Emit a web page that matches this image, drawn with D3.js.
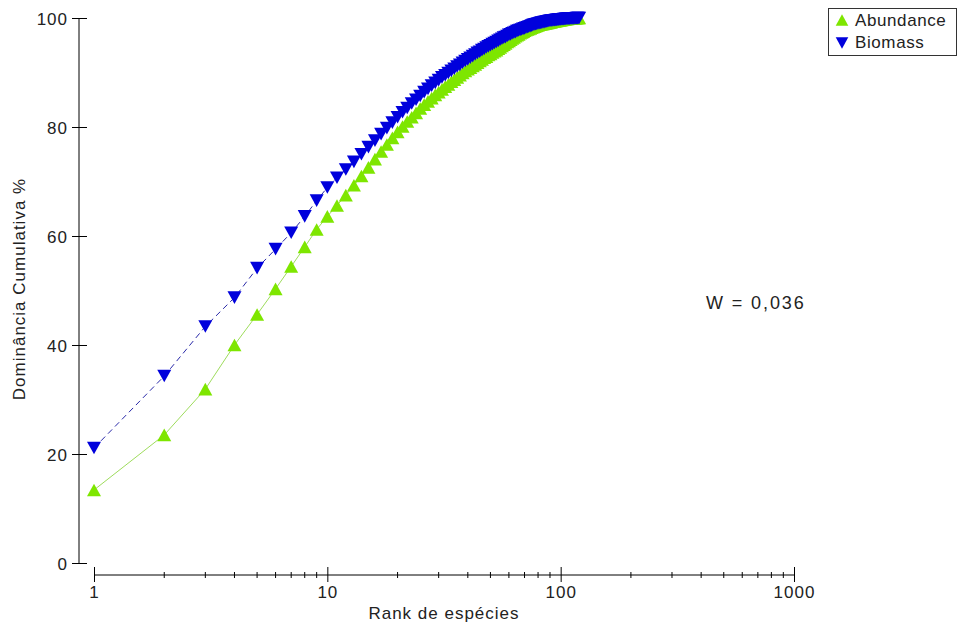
<!DOCTYPE html>
<html>
<head>
<meta charset="utf-8">
<script src="https://cdn.jsdelivr.net/npm/d3@7"></script>
<style>
  html, body { margin: 0; padding: 0; background: #fff; }
  svg { display: block; }
  text { font-family: "Liberation Sans", Arial, sans-serif; font-size: 17px; fill: #222; letter-spacing: 1px; }
</style>
</head>
<body>
<script>
// ---- data ----
const abundance = [
  13.4, 23.5, 31.9, 40.0, 45.6, 50.3, 54.4, 58.0, 61.2, 63.6,
  65.6, 67.5, 69.3, 71.0, 72.6, 74.1, 75.5, 76.8, 78.0, 79.1,
  80.1, 81.0, 81.8, 82.6, 83.4, 84.1, 84.7, 85.3, 85.9, 86.4,
  86.9, 87.4, 87.8, 88.3, 88.7, 89.1, 89.5, 89.9, 90.3, 90.6,
  90.9, 91.2, 91.5, 91.8, 92.1, 92.4, 92.7, 92.9, 93.2, 93.4,
  93.7, 93.9, 94.1, 94.35, 94.6, 94.85, 95.1, 95.35, 95.6, 95.8,
  96.0, 96.25, 96.45, 96.65, 96.85, 97.0, 97.2, 97.35, 97.5, 97.65,
  97.8, 97.9, 98.0, 98.1, 98.2, 98.3, 98.4, 98.5, 98.6, 98.7,
  98.75, 98.8, 98.85, 98.9, 98.95, 99.0, 99.05, 99.1, 99.15, 99.2,
  99.25, 99.3, 99.34, 99.38, 99.42, 99.46, 99.5, 99.54, 99.57, 99.6,
  99.64, 99.68, 99.72, 99.75, 99.78, 99.81, 99.84, 99.86, 99.88, 99.9,
  99.92, 99.94, 99.95, 99.96, 99.97, 99.98, 99.99, 99.995, 99.998, 100
];
const biomass = [
  21.1, 34.3, 43.4, 48.7, 54.1, 57.6, 60.6, 63.6, 66.5, 68.9,
  70.7, 72.2, 73.6, 75.0, 76.3, 77.5, 78.7, 79.8, 80.8, 81.8,
  82.7, 83.5, 84.3, 85.0, 85.7, 86.4, 87.0, 87.6, 88.1, 88.6,
  89.1, 89.5, 89.9, 90.3, 90.7, 91.1, 91.4, 91.8, 92.1, 92.4,
  92.7, 93.0, 93.3, 93.6, 93.8, 94.1, 94.3, 94.6, 94.8, 95.0,
  95.2, 95.4, 95.6, 95.8, 96.0, 96.2, 96.4, 96.5, 96.7, 96.9,
  97.0, 97.2, 97.3, 97.4, 97.6, 97.7, 97.8, 97.9, 98.0, 98.1,
  98.2, 98.3, 98.4, 98.5, 98.6, 98.7, 98.8, 98.85, 98.9, 99.0,
  99.05, 99.1, 99.15, 99.2, 99.25, 99.3, 99.35, 99.4, 99.45, 99.5,
  99.52, 99.55, 99.58, 99.6, 99.63, 99.66, 99.68, 99.7, 99.72, 99.74,
  99.76, 99.78, 99.8, 99.82, 99.84, 99.86, 99.87, 99.88, 99.89, 99.9,
  99.91, 99.92, 99.93, 99.94, 99.95, 99.96, 99.97, 99.98, 99.99, 100
];
const yTicks = [0, 20, 40, 60, 80, 100];
const xMajorTicks = [1, 10, 100, 1000];
const seriesNames = ["Abundance", "Biomass"];
const xLabel = "Rank de espécies";
const yLabel = "Dominância Cumulativa %";
const wLabel = "W = 0,036";

// ---- layout ----
const W = 958, H = 629;
const svg = d3.select("body").append("svg").attr("width", W).attr("height", H);

const x = d3.scaleLog().domain([1, 1000]).range([94, 794]);
const y = d3.scaleLinear().domain([0, 100]).range([563, 18]);
const yAxisX = 79, xAxisY = 575;

const green = "#7ee600", blue = "#0000dc";

// y axis
const gy = svg.append("g").attr("transform", `translate(${yAxisX},0)`)
  .call(d3.axisLeft(y).tickValues(yTicks).tickSize(7).tickPadding(11).tickFormat(d3.format("d")));
gy.select(".domain").attr("d", `M0,${y(100)}V${y(0)}`).attr("stroke", "#000");
gy.selectAll(".tick line").attr("x1", 8).attr("x2", -7).attr("stroke", "#000");
gy.selectAll(".tick text").attr("x", -11).attr("dy", "0.36em").style("fill", "#222");
gy.attr("font-size", null).attr("font-family", null);

// x axis
const minorTicks = [];
[1, 10, 100].forEach(d => { for (let k = 2; k <= 9; k++) minorTicks.push(d * k); });
const gx = svg.append("g").attr("transform", `translate(0,${xAxisY})`)
  .call(d3.axisBottom(x).tickValues(xMajorTicks).tickSize(7).tickFormat(d3.format("d")));
gx.select(".domain").attr("d", `M${x(1)},0H${x(1000)}`).attr("stroke", "#000");
gx.selectAll(".tick line").attr("y1", -8).attr("y2", 7).attr("stroke", "#000");
gx.selectAll(".tick text").attr("y", 23).attr("dy", 0).style("fill", "#222");
gx.attr("font-size", null).attr("font-family", null);
gx.selectAll(".minor").data(minorTicks).enter().append("line")
  .attr("class", "minor")
  .attr("x1", d => x(d)).attr("x2", d => x(d))
  .attr("y1", -3).attr("y2", 3).attr("stroke", "#000");

// axis titles
svg.append("text").attr("x", 444).attr("y", 619).attr("text-anchor", "middle").text(xLabel);
svg.append("text").attr("transform", "translate(25,289) rotate(-90)")
  .attr("text-anchor", "middle").text(yLabel);

// W annotation
svg.append("text").attr("x", 706).attr("y", 309)
  .style("font-size", "18px").style("letter-spacing", "1.9px").text(wLabel);

// triangles
const upTri = "M0,-6.3L7,6.3L-7,6.3Z";
const downTri = "M0,6.3L7,-6.3L-7,-6.3Z";

const line = d3.line().x((d, i) => x(i + 1)).y(d => y(d));

// abundance
svg.append("path").datum(abundance).attr("d", line)
  .attr("fill", "none").attr("stroke", "#9edc5c").attr("stroke-width", 1);
svg.append("g").selectAll("path").data(abundance).enter().append("path")
  .attr("d", upTri).attr("transform", (d, i) => `translate(${x(i + 1)},${y(d)})`)
  .attr("fill", green);

// biomass
svg.append("path").datum(biomass).attr("d", line)
  .attr("fill", "none").attr("stroke", "#2828a8").attr("stroke-width", 1)
  .attr("stroke-dasharray", "6,4");
svg.append("g").selectAll("path").data(biomass).enter().append("path")
  .attr("d", downTri).attr("transform", (d, i) => `translate(${x(i + 1)},${y(d)})`)
  .attr("fill", blue);

// legend
const lg = svg.append("g");
lg.append("rect").attr("x", 828.5).attr("y", 8.5).attr("width", 128).attr("height", 47)
  .attr("fill", "#fff").attr("stroke", "#333").attr("stroke-width", 1);
lg.append("path").attr("d", upTri).attr("transform", "translate(842,20) scale(0.9)").attr("fill", green);
lg.append("path").attr("d", downTri).attr("transform", "translate(842,43) scale(0.9)").attr("fill", blue);
lg.append("text").attr("x", 855).attr("y", 26).style("letter-spacing", "0.6px").text(seriesNames[0]);
lg.append("text").attr("x", 855).attr("y", 48).style("letter-spacing", "0.6px").text(seriesNames[1]);
</script>
</body>
</html>
